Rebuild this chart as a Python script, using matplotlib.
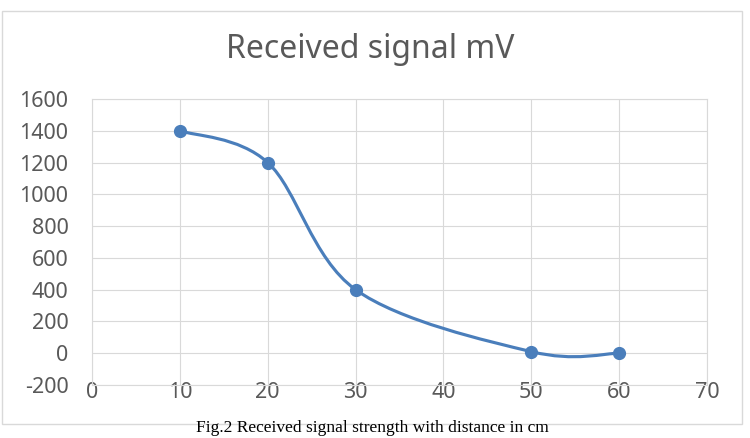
import numpy as np
import matplotlib.pyplot as plt
from matplotlib.path import Path
from matplotlib.patches import PathPatch, Rectangle

plt.rcParams["axes.unicode_minus"] = False

# data
distance = [10, 20, 30, 50, 60]
signal_mv = [1400, 1200, 400, 10, 0]
x_ticks = [0, 10, 20, 30, 40, 50, 60, 70]
y_ticks = [-200, 0, 200, 400, 600, 800, 1000, 1200, 1400, 1600]

LINE = "#4a7ebb"
GRID = "#d9d9d9"
TEXT = "#595959"


def smooth_path(xs, ys):
    # Excel-style smoothed line: Catmull-Rom segments as cubic beziers
    pts = np.column_stack([xs, ys]).astype(float)
    n = len(pts)
    verts = [pts[0]]
    codes = [Path.MOVETO]
    for i in range(n - 1):
        p0 = pts[i - 1] if i > 0 else pts[i]
        p1 = pts[i]
        p2 = pts[i + 1]
        p3 = pts[i + 2] if i + 2 < n else pts[i + 1]
        c1 = p1 + (p2 - p0) / 6
        c2 = p2 - (p3 - p1) / 6
        verts += [c1, c2, p2]
        codes += [Path.CURVE4] * 3
    return Path(verts, codes)


fig = plt.figure(figsize=(7.5, 4.38), dpi=100)
ax = fig.add_axes([0.1227, 0.121, 0.82, 0.653])

ax.add_patch(PathPatch(smooth_path(distance, signal_mv), facecolor="none",
                       edgecolor=LINE, lw=2.25, capstyle="round", zorder=3))
ax.plot(distance, signal_mv, linestyle="none", marker="o", markersize=8.5,
        color=LINE, zorder=4)

ax.set_xlim(0, 70)
ax.set_ylim(-200, 1600)
ax.set_xticks(x_ticks)
ax.set_yticks(y_ticks)
ax.grid(True, color=GRID, lw=0.8)
ax.set_axisbelow(True)
for s in ax.spines.values():
    s.set_color(GRID)
    s.set_linewidth(0.8)
ax.tick_params(length=0, labelsize=15.5, labelcolor=TEXT)
ax.tick_params(axis="y", pad=17)
ax.tick_params(axis="x", pad=-2.5)
for lab in ax.get_xticklabels() + ax.get_yticklabels():
    lab.set_fontfamily("Noto Sans")

fig.text(0.493, 0.886, "Received signal mV", ha="center", va="center",
         fontsize=23, color=TEXT, family="Noto Sans")

# outer chart border
fig.patches.append(Rectangle((0.002, 0.032), 0.987, 0.943, transform=fig.transFigure,
                             fill=False, edgecolor=GRID, lw=1))

fig.text(0.496, 0.004, "Fig.2 Received signal strength with distance in cm",
         ha="center", va="bottom", fontsize=12.5, color="black", family="Liberation Serif")

fig.savefig("out.png", dpi=100)
